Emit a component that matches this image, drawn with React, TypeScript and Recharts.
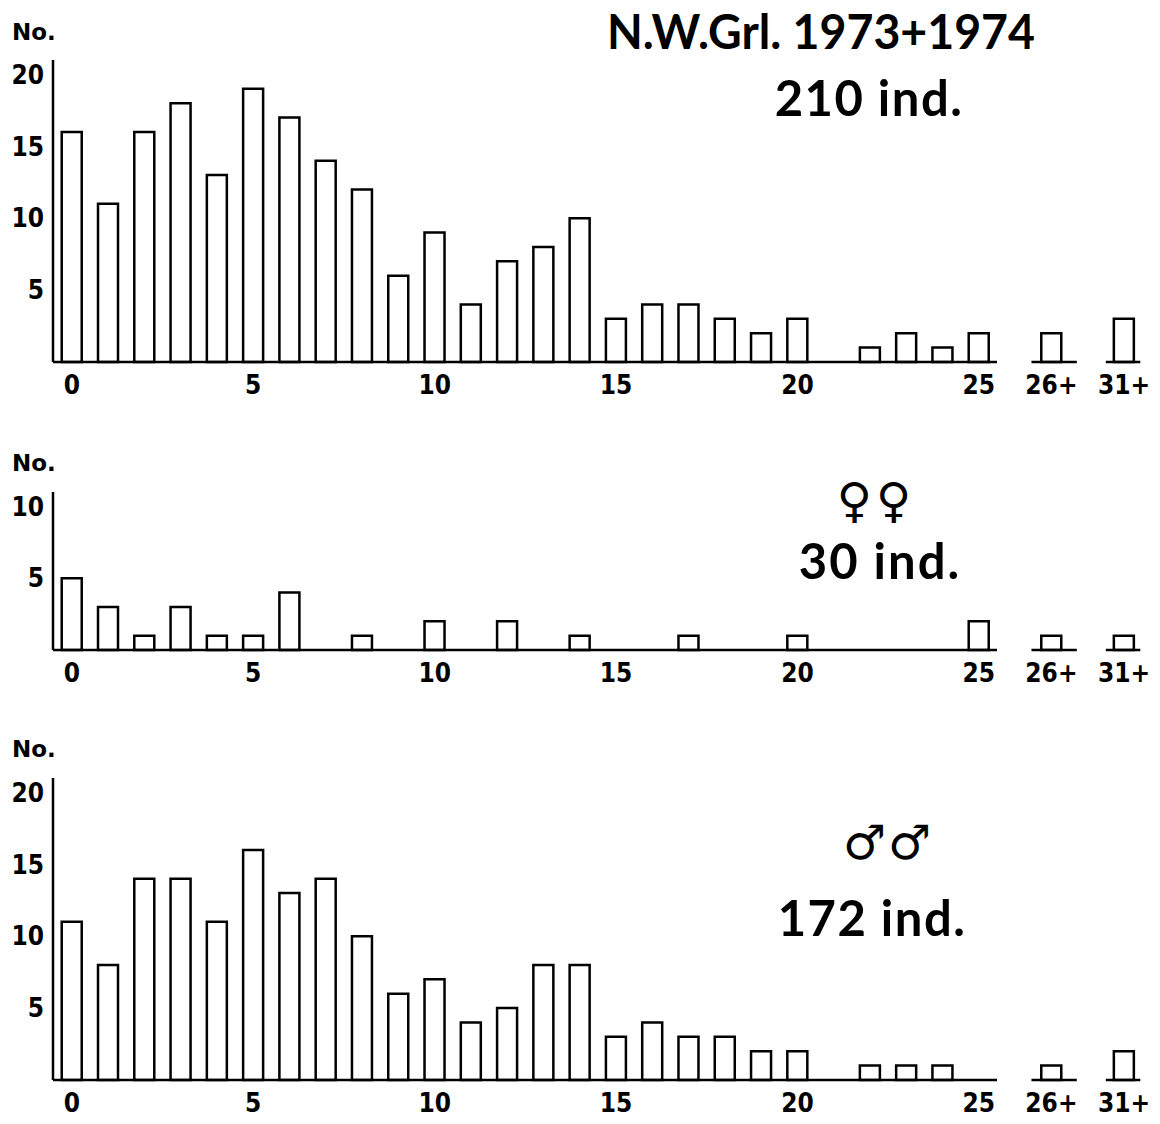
import React from 'react';
import { BarChart, Bar, XAxis, YAxis, ReferenceLine } from 'recharts';

// age classes, 0..25 then two pooled classes
const categories = [
  '0', '1', '2', '3', '4', '5', '6', '7', '8', '9', '10', '11', '12', '13',
  '14', '15', '16', '17', '18', '19', '20', '21', '22', '23', '24', '25', '26+', '31+'
];

const allCounts = [16, 11, 16, 18, 13, 19, 17, 14, 12, 6, 9, 4, 7, 8, 10, 3, 4, 4, 3, 2, 3, 0, 1, 2, 1, 2, 2, 3];
const femaleCounts = [5, 3, 1, 3, 1, 1, 4, 0, 1, 0, 2, 0, 2, 0, 1, 0, 0, 1, 0, 0, 1, 0, 0, 0, 0, 2, 1, 1];
const maleCounts = [11, 8, 14, 14, 11, 16, 13, 14, 10, 6, 7, 4, 5, 8, 8, 3, 4, 3, 3, 2, 2, 0, 1, 1, 1, 0, 1, 2];

const xTickLabels = ['0', '5', '10', '15', '20', '25', '26+', '31+'];
const yTicksBig = [5, 10, 15, 20];
const yTicksSmall = [5, 10];

// the pooled classes sit apart from the 0..25 run
const LAST_SINGLE = 25;
const posOf = (i: number) => (i <= LAST_SINGLE ? i : LAST_SINGLE + 2 * (i - LAST_SINGLE));

const buildData = (counts: number[]) =>
  categories.map((c, i) => ({ label: c, pos: posOf(i), count: counts[i] }));

const xTicks = xTickLabels.map((l) => posOf(categories.indexOf(l)));
const labelAt = (p: number) => {
  const i = categories.findIndex((_, k) => posOf(k) === p);
  return i >= 0 ? categories[i] : '';
};

const INK = '#000';
const tickStyle = { fill: INK, fontSize: 26, fontWeight: 700, fontFamily: 'DejaVu Sans Condensed, DejaVu Sans' };

// broken baseline: main run, then short stubs under the pooled bars
const baseSegments = [
  [-0.52, 25.5],
  [26.45, 27.7],
  [28.5, 29.45]
];

interface PanelProps {
  counts: number[];
  yMax: number;
  yTicks: number[];
  plotTop: number;
  plotHeight: number;
}

function Panel({ counts, yMax, yTicks, plotTop, plotHeight }: PanelProps) {
  const data = buildData(counts);
  return (
    <div style={{ position: 'absolute', left: 0, top: plotTop - 10 }}>
      <BarChart
        width={1160}
        height={plotHeight + 55}
        data={data}
        margin={{ top: 10, right: 7, bottom: 0, left: 0 }}
      >
        <XAxis
          type="number"
          dataKey="pos"
          domain={[-0.52, 29.8]}
          ticks={xTicks}
          interval={0}
          tickFormatter={labelAt}
          axisLine={false}
          tickLine={false}
          tickSize={0}
          tickMargin={14}
          height={45}
          tick={tickStyle}
          allowDataOverflow
        />
        <YAxis
          type="number"
          domain={[0, yMax]}
          ticks={yTicks}
          interval={0}
          width={53}
          axisLine={{ stroke: INK, strokeWidth: 2.5 }}
          tickLine={false}
          tickSize={0}
          tickMargin={9}
          tick={tickStyle}
        />
        <Bar
          dataKey="count"
          barSize={20}
          fill="#fff"
          stroke={INK}
          strokeWidth={2.5}
          isAnimationActive={false}
        />
        {baseSegments.map(([a, b], i) => (
          <ReferenceLine
            key={i}
            segment={[{ x: a, y: 0 }, { x: b, y: 0 }]}
            stroke={INK}
            strokeWidth={2.5}
            ifOverflow="visible"
          />
        ))}
      </BarChart>
    </div>
  );
}

const bigText = { fontFamily: 'Lato', fontWeight: 700, fill: INK };
const noLabel = { fontFamily: 'DejaVu Sans', fontWeight: 700, fontSize: 23, fill: INK };
const symText = { fontFamily: 'DejaVu Sans', fontWeight: 700, fill: INK };

export default function App() {
  return (
    <div style={{ position: 'absolute', left: 0, top: 0, width: 1160, height: 1124, background: '#fff' }}>
      <Panel counts={allCounts} yMax={21} yTicks={yTicksBig} plotTop={60} plotHeight={302} />
      <Panel counts={femaleCounts} yMax={11} yTicks={yTicksSmall} plotTop={492} plotHeight={158} />
      <Panel counts={maleCounts} yMax={21} yTicks={yTicksBig} plotTop={778} plotHeight={302} />

      <svg width={1160} height={1124} style={{ position: 'absolute', left: 0, top: 0, pointerEvents: 'none' }}>
        <text x={12} y={32} dominantBaseline="central" style={noLabel}>No.</text>
        <text x={12} y={463} dominantBaseline="central" style={noLabel}>No.</text>
        <text x={12} y={749} dominantBaseline="central" style={noLabel}>No.</text>

        <text x={821} y={30} textAnchor="middle" dominantBaseline="central" fontSize={48} textLength={428} lengthAdjust="spacingAndGlyphs" style={bigText}>
          N.W.Grl. 1973+1974
        </text>
        <text x={869} y={97} textAnchor="middle" dominantBaseline="central" fontSize={49} letterSpacing={1.5} style={bigText}>
          210 ind.
        </text>

        <text x={876} y={500} textAnchor="middle" dominantBaseline="central" fontSize={48} letterSpacing={4} style={symText}>
          ♀♀
        </text>
        <text x={880} y={560} textAnchor="middle" dominantBaseline="central" fontSize={49} letterSpacing={2} style={bigText}>
          30 ind.
        </text>

        <text x={888} y={842} textAnchor="middle" dominantBaseline="central" fontSize={48} letterSpacing={2} style={symText}>
          ♂♂
        </text>
        <text x={872} y={917} textAnchor="middle" dominantBaseline="central" fontSize={49} letterSpacing={1.5} style={bigText}>
          172 ind.
        </text>
      </svg>
    </div>
  );
}
